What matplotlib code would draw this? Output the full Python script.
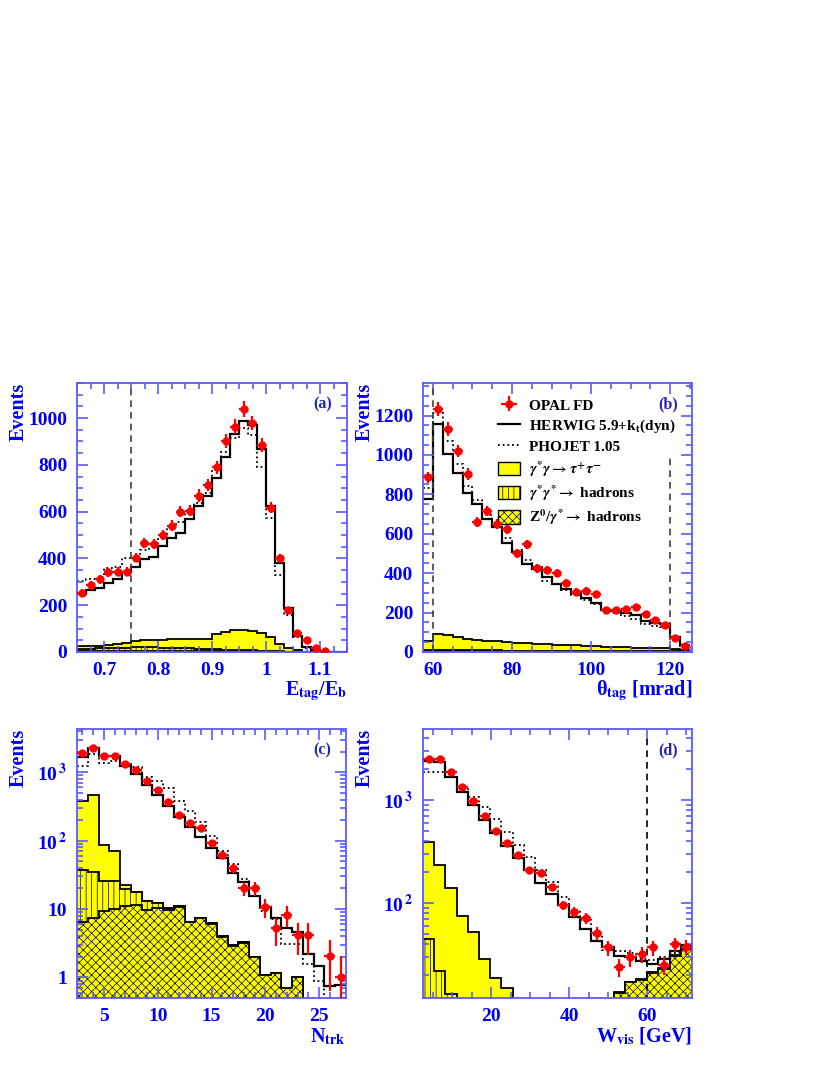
import matplotlib
matplotlib.use("Agg")
import matplotlib.pyplot as plt
import numpy as np
from matplotlib.ticker import MultipleLocator, FixedLocator, FixedFormatter, LogLocator, NullFormatter
from matplotlib.patches import Patch
from matplotlib.lines import Line2D

plt.rcParams["font.family"] = "Liberation Serif"
plt.rcParams["font.weight"] = "bold"
plt.rcParams["mathtext.fontset"] = "stix"
plt.rcParams["hatch.linewidth"] = 0.5

BLUE = "#0000f0"
FRAME = "#5a5aff"
YEL = "#ffff00"

# ---- (a) E_tag / E_b ----
a_data = [254, 286, 310, 340, 344, 344, 403, 467, 461, 500, 539, 600, 604, 669, 713,
          789, 900, 964, 1039, 979, 886, 617, 400, 181, 81, 53, 17, 3, 0, 0]
a_herwig = [247, 264, 274, 296, 314, 340, 364, 396, 407, 453, 486, 510, 567, 626, 667,
            743, 833, 933, 986, 971, 867, 624, 379, 186, 69, 21, 7, 0, 0, 0]
a_phojet = [303, 314, 317, 360, 364, 403, 403, 436, 464, 481, 536, 557, 593, 639, 679,
            779, 857, 914, 957, 929, 793, 571, 329, 157, 64, 19, 7, 0, 0, 0]
a_tau = [10, 10, 11, 12, 18, 21, 26, 29, 29, 34, 36, 39, 42, 43, 41,
         66, 76, 84, 88, 83, 76, 60, 33, 18, 7, 0, 0, 0, 0, 0]
a_had = [10, 10, 11, 12, 13, 14, 15, 16, 16, 15, 14, 13, 12, 11, 10,
         9, 8, 7, 6, 5, 4, 3, 2, 1, 0, 0, 0, 0, 0, 0]
a_z = [4, 4, 4, 5, 5, 5, 5, 5, 5, 4, 4, 4, 3, 3, 3,
       3, 2, 2, 2, 2, 1, 1, 1, 0, 0, 0, 0, 0, 0, 0]

# ---- (b) theta_tag ----
b_data = [886, 1232, 1131, 1020, 903, 658, 715, 649, 622, 500, 547, 424, 415, 402,
          351, 305, 310, 292, 215, 215, 217, 229, 193, 164, 136, 71, 29]
b_herwig = [775, 1158, 1005, 907, 805, 751, 673, 636, 551, 508, 446, 419, 381, 347,
            322, 300, 276, 249, 215, 208, 198, 186, 158, 147, 141, 76, 34]
b_phojet = [831, 1212, 1071, 953, 842, 771, 695, 639, 580, 517, 466, 432, 361, 347,
            314, 288, 266, 246, 215, 198, 181, 169, 144, 130, 127, 71, 29]
b_tau = [47, 79, 73, 63, 58, 52, 50, 47, 44, 41, 38, 35, 34, 32,
         29, 29, 27, 24, 21, 21, 20, 18, 17, 17, 15, 12, 10]
b_had = [6, 9, 8, 8, 7, 7, 6, 6, 5, 5, 5, 4, 4, 4,
         4, 3, 3, 3, 3, 3, 2, 2, 2, 2, 2, 2, 1]
b_z = [2, 3, 3, 3, 3, 2, 2, 2, 2, 2, 2, 2, 2, 2,
       2, 1, 1, 1, 1, 1, 1, 1, 1, 1, 1, 1, 1]

# ---- (c) N_trk ----
c_data = [1897, 2270, 1754, 1754, 1324, 1094, 755, 557, 372, 238, 179, 151, 91,
          62, 40, 20, 20, 10.6, 5.2, 8.3, 4.2, 4.2, 0, 2.07, 1.03]
c_herwig = [1660, 2244, 1754, 1714, 1224, 946, 653, 471, 325, 219, 157, 112, 77,
            55, 34, 24.5, 15.7, 10.6, 7.5, 5.2, 4.6, 2.2, 1.48, 0.76, 0.77]
c_phojet = [1253, 1855, 1355, 1482, 1324, 1184, 845, 755, 583, 385, 275, 185, 118,
            71, 46, 27.5, 15.7, 9.5, 7.1, 3.1, 3.1, 1.57, 0.89, 0.4, 0.3]
c_tau = [347, 431, 60, 45, 2.9, 0.4, 0, 0, 0, 0, 0, 0, 0,
         0, 0, 0, 0, 0, 0, 0, 0, 0, 0, 0, 0]
c_had = [31, 27.5, 16.5, 16, 8.4, 5.9, 3.4, 2.0, 0.6, 0.3, 0.1, 0.2, 0.2,
         0.2, 0.1, 0.05, 0.04, 0, 0, 0, 0, 0, 0, 0, 0]
c_z = [6.5, 7.5, 9.5, 10, 11.2, 11.6, 9.8, 10.2, 9.8, 10.6, 6.4, 7.3, 6.0,
       3.85, 2.9, 3.2, 1.96, 1.09, 1.16, 0.71, 1.0, 0, 0, 0, 0]

# ---- (d) W_vis ----
d_data = [2483, 2483, 1857, 1328, 986, 705, 504, 385, 293, 209, 197, 142,
          95.6, 82.4, 71, 51.5, 37.1, 24.1, 29.7, 32, 37.1, 25, 40, 37.7]
d_herwig = [2410, 2355, 1660, 1205, 894, 640, 475, 360, 272, 209, 157, 122,
            95.6, 72.6, 55.5, 43, 37.7, 30.5, 29.7, 27.4, 25.9, 29, 34.4, 39]
d_phojet = [1883, 1883, 1660, 1328, 1076, 849, 649, 493, 366, 282, 209, 161,
            115, 85.5, 68.4, 49.6, 35, 34.4, 32.5, 29, 28, 30.1, 32.5, 37.7]
d_tau = [348, 212, 126, 70, 50, 28, 18.5, 14.8, 0, 0, 0, 0,
         0, 0, 0, 0, 0, 0.3, 0.3, 0.3, 0.3, 0.3, 0.3, 0.3]
d_had = [45, 22, 13, 5, 2, 0.5, 0.3, 0.2, 0, 0, 0, 0,
         0, 0, 0, 0, 0, 0, 0, 0, 0, 0, 0, 0]
d_z = [0, 0, 0, 0, 0, 0, 0, 0, 0, 0, 0, 0,
       0, 0, 0, 0, 0, 13.5, 17, 18, 21, 23, 31, 36]


def draw_panel(ax, edges, data, herwig, phojet, tau, had, zz, base=0.0, log=False):
    edges = np.asarray(edges)
    z = np.asarray(zz, float)
    zh = z + np.asarray(had, float)
    tot = zh + np.asarray(tau, float)
    floor = base if log else 0.0
    for vals, hatch in [(tot, None), (zh, "|||"), (z, "xxxx")]:
        v = np.maximum(vals, floor)
        ax.stairs(v, edges, fill=True, baseline=floor, facecolor=YEL,
                  edgecolor="black", hatch=hatch, linewidth=0)
        ax.stairs(v, edges, baseline=None, color="black", lw=1.3)

    hw = np.maximum(np.asarray(herwig, float), floor)
    ph = np.maximum(np.asarray(phojet, float), floor)
    ax.stairs(ph, edges, baseline=None, color="black", lw=1.3, linestyle=(0, (1, 1.6)))
    ax.stairs(hw, edges, baseline=None, color="black", lw=1.6)

    centres = 0.5 * (edges[:-1] + edges[1:])
    half = 0.5 * (edges[1:] - edges[:-1])
    d = np.asarray(data, float)
    m = d > 0
    err = np.sqrt(d[m])
    lo = np.minimum(err, d[m] * 0.999) if log else err
    eb = ax.errorbar(centres[m], d[m], xerr=half[m], yerr=[lo, err], fmt="o",
                     color="#ff0000", ms=5, elinewidth=1.6, capsize=0, zorder=5)
    return eb


def style_axes(ax, tag, xlabel):
    for s in ax.spines.values():
        s.set_color(FRAME)
        s.set_linewidth(1.3)
    ax.tick_params(which="both", direction="in", top=True, right=True,
                   color=FRAME, labelcolor=BLUE, labelsize=14, width=1.2)
    ax.tick_params(which="major", length=8, pad=7)
    ax.tick_params(which="minor", length=4)
    ax.text(0.91, 0.92, tag, transform=ax.transAxes, ha="center", va="center",
            fontsize=11.5, color="#2424b4")
    ax.text(-0.215, 1.0, "Events", rotation=90, ha="center", va="top",
            transform=ax.transAxes, fontsize=14.5, color=BLUE)
    ax.text(1.0, -0.145, xlabel, ha="right", va="center",
            transform=ax.transAxes, fontsize=14.5, color=BLUE)


fig = plt.figure(figsize=(8.3, 10.75), dpi=100)
W, H = 830.0, 1075.0
ax_a = fig.add_axes([77 / W, 1 - 652 / H, 270 / W, 269 / H])
ax_b = fig.add_axes([423 / W, 1 - 652 / H, 269 / W, 269 / H])
ax_c = fig.add_axes([77 / W, 1 - 998 / H, 269 / W, 269 / H])
ax_d = fig.add_axes([423 / W, 1 - 998 / H, 269 / W, 269 / H])

# (a)
a_edges = np.linspace(0.65, 1.15, 31)
draw_panel(ax_a, a_edges, a_data, a_herwig, a_phojet, a_tau, a_had, a_z)
ax_a.plot([0.75, 0.75], [0, 1150], color="#404040", lw=1.2, linestyle=(0, (4, 3)))
ax_a.set_xlim(0.65, 1.15)
ax_a.set_ylim(0, 1150)
ax_a.xaxis.set_major_locator(FixedLocator([0.7, 0.8, 0.9, 1.0, 1.1]))
ax_a.xaxis.set_major_formatter(FixedFormatter(["0.7", "0.8", "0.9", "1", "1.1"]))
ax_a.xaxis.set_minor_locator(MultipleLocator(0.025))
ax_a.yaxis.set_major_locator(MultipleLocator(200))
ax_a.yaxis.set_minor_locator(MultipleLocator(50))
style_axes(ax_a, "(a)", r"E$_{\mathbf{tag}}$/E$_{\mathbf{b}}$")

# (b)
b_edges = np.linspace(57.5, 125, 28)
eb = draw_panel(ax_b, b_edges, b_data, b_herwig, b_phojet, b_tau, b_had, b_z)
ax_b.plot([60, 60], [0, 1370], color="#404040", lw=1.2, linestyle=(0, (4, 3)))
ax_b.plot([120, 120], [0, 1000], color="#404040", lw=1.2, linestyle=(0, (4, 3)))
ax_b.set_xlim(57.5, 125.5)
ax_b.set_ylim(0, 1365)
ax_b.xaxis.set_major_locator(MultipleLocator(20))
ax_b.xaxis.set_minor_locator(MultipleLocator(5))
ax_b.yaxis.set_major_locator(MultipleLocator(200))
ax_b.yaxis.set_minor_locator(MultipleLocator(50))
style_axes(ax_b, "(b)", "θ$_{\\mathbf{tag}}$ [mrad]")

handles = [
    eb,
    Line2D([], [], color="black", lw=1.6),
    Line2D([], [], color="black", lw=1.3, linestyle=(0, (1, 1.6))),
    Patch(facecolor=YEL, edgecolor="black", lw=1.0),
    Patch(facecolor=YEL, edgecolor="black", lw=1.0, hatch="|||"),
    Patch(facecolor=YEL, edgecolor="black", lw=1.0, hatch="xxxx"),
]
labels = [
    "OPAL FD",
    r"HERWIG 5.9+k$_{\mathbf{t}}$(dyn)",
    "PHOJET 1.05",
    r"$\gamma^{*}\gamma\rightarrow\tau^{+}\tau^{-}$",
    r"$\gamma^{*}\gamma^{*}\rightarrow$ hadrons",
    r"Z$^{\mathbf{0}}$/$\gamma^{*}\rightarrow$ hadrons",
]
ax_b.legend(handles, labels, loc="upper left", bbox_to_anchor=(0.28, 0.945),
            frameon=False, fontsize=11, handlelength=1.4, handleheight=1.0,
            handletextpad=0.6, labelspacing=0.3, borderaxespad=0, borderpad=0)

# (c)
c_edges = np.linspace(2.5, 27.5, 26)
draw_panel(ax_c, c_edges, c_data, c_herwig, c_phojet, c_tau, c_had, c_z, base=0.3, log=True)
ax_c.set_yscale("log")
ax_c.set_xlim(2.5, 27.5)
ax_c.set_ylim(0.5, 4300)
ax_c.xaxis.set_major_locator(MultipleLocator(5))
ax_c.xaxis.set_minor_locator(MultipleLocator(1))
ax_c.yaxis.set_major_locator(FixedLocator([1, 10, 100, 1000]))
ax_c.yaxis.set_major_formatter(FixedFormatter(["1", "10", r"10$^{\,\mathbf{2}}$", r"10$^{\,\mathbf{3}}$"]))
ax_c.yaxis.set_minor_locator(LogLocator(base=10, subs=np.arange(2, 10)))
ax_c.yaxis.set_minor_formatter(NullFormatter())
style_axes(ax_c, "(c)", r"N$_{\mathbf{trk}}$")

# (d)
d_edges = np.linspace(2.5, 71.5, 25)
draw_panel(ax_d, d_edges, d_data, d_herwig, d_phojet, d_tau, d_had, d_z, base=5, log=True)
ax_d.plot([60, 60], [5, 3900], color="black", lw=1.2, linestyle=(0, (4, 3)))
ax_d.set_yscale("log")
ax_d.set_xlim(2.5, 71.5)
ax_d.set_ylim(12, 4900)
ax_d.xaxis.set_major_locator(MultipleLocator(20))
ax_d.xaxis.set_minor_locator(MultipleLocator(5))
ax_d.yaxis.set_major_locator(FixedLocator([100, 1000]))
ax_d.yaxis.set_major_formatter(FixedFormatter([r"10$^{\,\mathbf{2}}$", r"10$^{\,\mathbf{3}}$"]))
ax_d.yaxis.set_minor_locator(LogLocator(base=10, subs=np.arange(2, 10)))
ax_d.yaxis.set_minor_formatter(NullFormatter())
style_axes(ax_d, "(d)", r"W$_{\mathbf{vis}}$ [GeV]")

fig.savefig("out.png", dpi=100)
